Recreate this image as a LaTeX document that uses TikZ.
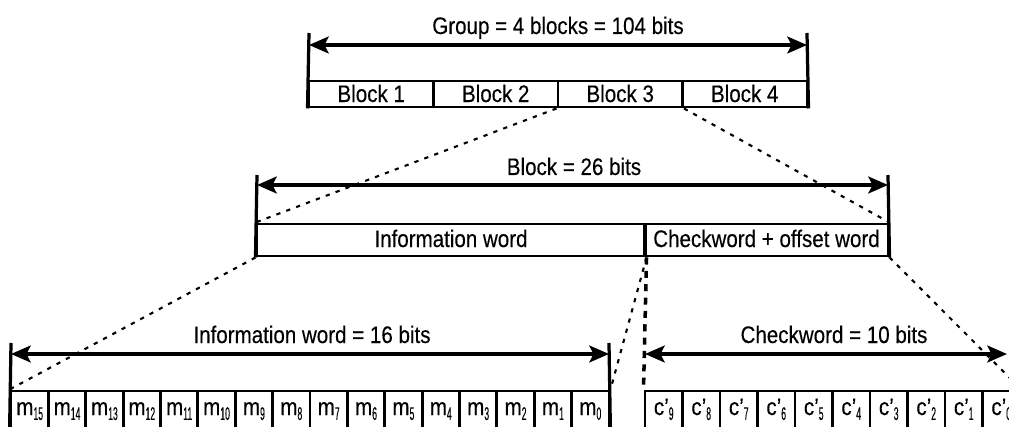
\documentclass[tikz,border=0pt]{standalone}
\usepackage{fontspec}
\setmainfont{Liberation Sans}[FakeStretch=0.86, FakeBold=0.3]
\usepackage{graphicx}
\usetikzlibrary{arrows.meta}

\newcommand{\pedice}[1]{\raisebox{-3.5pt}{\scalebox{0.55}[1]{\fontsize{13}{13}\selectfont #1}}}

\tikzset{
  testo/.style={font=\fontsize{17}{18}\selectfont, inner sep=0pt},
  cella/.style={testo, draw, line width=2.1pt},
  quota/.style={line width=2.3pt, {Stealth[length=14pt,width=12pt,inset=3pt]}-{Stealth[length=14pt,width=12pt,inset=3pt]}},
  limite/.style={line width=2.3pt},
  tratteggio/.style={line width=1.5pt, dash pattern=on 3pt off 4.5pt},
  separa/.style={line width=2.5pt, dash pattern=on 5pt off 4.5pt}
}

\begin{document}
\begin{tikzpicture}[x=0.025cm, y=-0.025cm]
        \useasboundingbox (0,0) rectangle (1009,427);
        \clip (0,0) rectangle (1009,427);

        % Gruppo di 4 blocchi
        \foreach \i in {1,...,4}
            \node[cella, minimum width=3.1125cm, minimum height=0.65cm, text height=0.45cm, text depth=0.05cm] (b\i) at ({309+124.5*(\i-0.5)},94) {Block \i};
        \coordinate (gs) at (309,33);
        \coordinate (gd) at (807,33);
        \coordinate (ga) at (309,45);
        \coordinate (gb) at (807,45);
        \draw[limite] (gs) -- (b1.south west);
        \draw[limite] (gd) -- (b4.south east);
        \draw[quota] (ga) -- (gb);
        \node[testo, anchor=base] (tgr) at (558,34) {Group = 4 blocks = 104 bits};

        % Blocco
        \node[cella, minimum width=9.7cm, minimum height=0.8cm, text height=0.4cm, text depth=0.05cm] (iw) at (451,240) {Information word};
        \node[cella, minimum width=6.075cm, minimum height=0.8cm, text height=0.4cm, text depth=0.05cm] (cw) at (766.5,240) {Checkword + offset word};
        \coordinate (bs) at (257,175);
        \coordinate (bd) at (888,175);
        \coordinate (ba) at (257,185);
        \coordinate (bb) at (888,185);
        \draw[limite] (bs) -- (iw.south west);
        \draw[limite] (bd) -- (cw.south east);
        \draw[quota] (ba) -- (bb);
        \node[testo, anchor=base] (tbl) at (574,175) {Block = 26 bits};

        % Ingrandimento del blocco 3
        \draw[tratteggio] (b3.south west) -- (iw.north west);
        \draw[tratteggio] (b3.south east) -- (cw.north east);

        % Bit di informazione
        \foreach \i in {0,...,15}
            \node[cella, minimum width=0.934cm, minimum height=1.05cm, text height=0.3cm, text depth=0.15cm] (m\i) at ({609-37.375*(\i+0.5)},412) {m\pedice{\i}};
        \coordinate (is) at (11,343);
        \coordinate (id) at (609,343);
        \coordinate (ia) at (11,354);
        \coordinate (ib) at (609,354);
        \draw[limite] (is) -- (m15.south west);
        \draw[limite] (id) -- (m0.south east);
        \draw[quota] (ia) -- (ib);
        \node[testo, anchor=base] (tiw) at (312,343) {Information word = 16 bits};

        % Bit di controllo
        \foreach \i in {0,...,9}
            \node[cella, minimum width=0.9375cm, minimum height=1.05cm, text height=0.3cm, text depth=0.15cm] (c\i) at ({645+37.5*(9.5-\i)},412) {c'\pedice{\i}};
        \coordinate (ca) at (645,354);
        \coordinate (cb) at (1007,354);
        \draw[separa] (iw.south east) -- (c9.north west);
        \draw[quota] (ca) -- (cb);
        \node[testo, anchor=base] (tck) at (834,343) {Checkword = 10 bits};

        % Ingrandimento del blocco
        \draw[tratteggio] (iw.south west) -- (m15.north west);
        \draw[tratteggio] (iw.south east) -- (m0.north east);
        \draw[tratteggio] (cw.south east) -- (c0.north east);
\end{tikzpicture}
\end{document}
